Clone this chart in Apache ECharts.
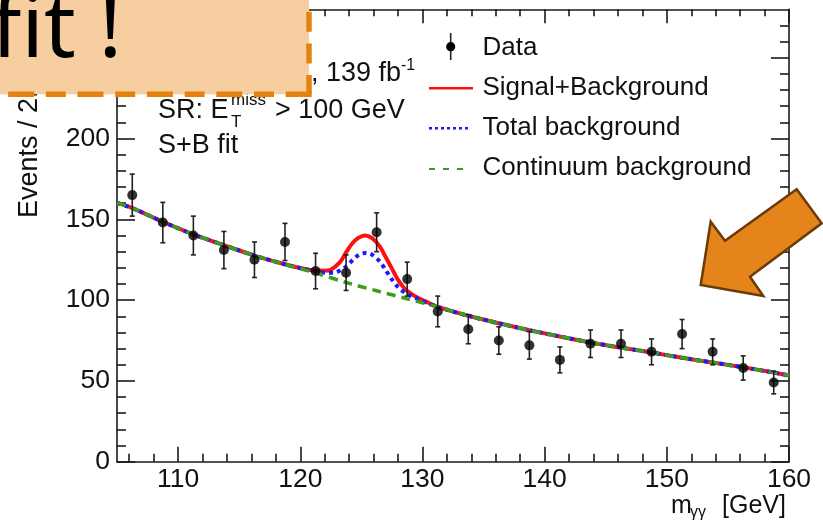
<!DOCTYPE html>
<html>
<head>
<meta charset="utf-8">
<script src="https://cdn.jsdelivr.net/npm/echarts@6/dist/echarts.min.js"></script>
<style>
html,body{margin:0;padding:0;background:#fff;}
#chart{width:823px;height:523px;}
</style>
</head>
<body>
<div id="chart"></div>
<script>
// ---- data ----
const binCenters = [106.25,108.75,111.25,113.75,116.25,118.75,121.25,123.75,126.25,128.75,131.25,133.75,136.25,138.75,141.25,143.75,146.25,148.75,151.25,153.75,156.25,158.75];
const eventCounts = [165,148,140,131,125,136,118,117,142,113,93,82,75,72,63,73,73,68,79,68,58,49];
const countErrors = [13,12.5,12,11.5,11,11.5,11,11,12,10.5,9.5,9,8.5,8.5,8,8.5,8.5,8,9,8,7.5,7];

// Continuum background (green dashed)
const contX = [105,106.25,108.75,111.25,113.75,116.25,118.75,121.25,123.75,126.25,128.75,131.25,133.75,136.25,138.75,141.25,143.75,146.25,148.75,151.25,153.75,156.25,158.75,160];
const contY = [160.2,157,148.5,140.7,134,127.6,122,116.8,110.9,105.8,100.8,95.8,90.3,85.7,81.4,77.5,73.8,70.6,67.6,64.3,61.4,58.4,55.2,53.4];

// Signal + Background (red solid)
const sbX = [105,106.25,108.75,111.25,113.75,116.25,118.75,120,121,121.9,122.5,123.25,123.75,124.25,124.75,125.3,125.85,126.5,127,127.5,128,128.5,129,129.5,130.25,131.25,133.75,136.25,138.75,141.25,143.75,146.25,148.75,151.25,153.75,156.25,158.75,160];
const sbY = [160.2,157,148.5,140.7,134,127.6,122.2,119.9,118.5,118.2,118.8,123.5,129.5,135,138.5,140,138.5,133.3,126.5,119.5,112.5,107.5,104.3,102,99.2,95.8,90.3,85.7,81.4,77.5,73.8,70.6,67.6,64.3,61.4,58.4,55.2,53.4];

// Total background (blue dotted)
const bkgX = [105,106.25,108.75,111.25,113.75,116.25,118.75,120,121,122,122.75,123.25,123.75,124.25,124.75,125.3,125.85,126.5,127,127.5,128,128.5,129,129.75,130.5,131.25,133.75,136.25,138.75,141.25,143.75,146.25,148.75,151.25,153.75,156.25,158.75,160];
const bkgY = [160.2,157,148.5,140.7,134,127.6,122.1,119.8,118.2,117,117,118.3,120.8,124.5,127.8,129.2,128.2,124,118.5,112.8,108,105,102.8,100.3,97.8,95.8,90.3,85.7,81.4,77.5,73.8,70.6,67.6,64.3,61.4,58.4,55.2,53.4];

// Axis ticks and labels
const xMajorTicks = [110,120,130,140,150,160];
const xMinorTicks = [106,108,112,114,116,118,122,124,126,128,132,134,136,138,142,144,146,148,152,154,156,158];
const yMajorTicks = [0,50,100,150,200,250];
const yMajorLabels = [0,50,100,150,200];
const yMinorTicks = [10,20,30,40,60,70,80,90,110,120,130,140,160,170,180,190,210,220,230,240,260,270];

const legendLabels = ['Data','Signal+Background','Total background','Continuum background'];

// ---- chart ----
const FONT = '"Liberation Sans", Arial, sans-serif';
const AX = {color:'#1a1a1a', width:1.6};
const RED = '#ff1010', BLUE = '#1a1aff', GREEN = '#3c9e1e';

function xAx(pos, len, ticks, withLine, withLabels) {
  return {
    type:'value', min:105, max:160, position:pos,
    axisLine:{show:withLine, onZero:false, lineStyle:AX},
    axisTick:{show:true, inside:true, length:len, customValues:ticks, lineStyle:AX},
    axisLabel: withLabels ? {show:true, customValues:xMajorTicks, fontSize:26.5, color:'#111', margin:4, fontFamily:FONT} : {show:false},
    splitLine:{show:false}
  };
}
function yAx(pos, len, ticks, withLine, withLabels) {
  return {
    type:'value', min:0, max:280, position:pos,
    axisLine:{show:withLine, onZero:false, lineStyle:AX},
    axisTick:{show:true, inside:true, length:len, customValues:ticks, lineStyle:AX},
    axisLabel: withLabels ? {show:true, customValues:yMajorLabels, fontSize:26.5, color:'#111', margin:7, fontFamily:FONT} : {show:false},
    splitLine:{show:false}
  };
}

const pairs = (xs, ys) => xs.map((x,i)=>[x, ys[i]]);

const chart = echarts.init(document.getElementById('chart'), null, {renderer:'canvas'});

const option = {
  backgroundColor:'#ffffff',
  animation:false,
  grid:{left:117, right:34, top:9.3, bottom:61.3, containLabel:false},
  xAxis:[
    xAx('bottom',15,xMajorTicks,true,true),
    xAx('bottom',8,xMinorTicks,false,false),
    xAx('top',14,xMajorTicks,true,false),
    xAx('top',7,xMinorTicks,false,false)
  ],
  yAxis:[
    yAx('left',18,yMajorTicks,true,true),
    yAx('left',9,yMinorTicks,false,false),
    yAx('right',18,yMajorTicks,true,false),
    yAx('right',9,yMinorTicks,false,false)
  ],
  series:[
    {name:'Signal+Background', type:'line', data:pairs(sbX,sbY), symbol:'none', smooth:0.3,
     lineStyle:{color:RED, width:4}, z:2},
    {name:'Total background', type:'line', data:pairs(bkgX,bkgY), symbol:'none', smooth:0.3,
     lineStyle:{color:BLUE, width:4, type:[4,4]}, z:3},
    {name:'Continuum background', type:'line', data:pairs(contX,contY), symbol:'none', smooth:0.3,
     lineStyle:{color:GREEN, width:3.5, type:[9,6]}, z:4},
    {name:'Data errors', type:'custom', z:5,
     data: binCenters.map((x,i)=>[x, eventCounts[i]-countErrors[i], eventCounts[i]+countErrors[i]]),
     renderItem:function(params, api){
       const x = api.value(0);
       const p1 = api.coord([x, api.value(1)]);
       const p2 = api.coord([x, api.value(2)]);
       const st = {stroke:'#222', lineWidth:1.6};
       const cw = 2.5;
       return {type:'group', children:[
         {type:'line', shape:{x1:p1[0],y1:p1[1],x2:p2[0],y2:p2[1]}, style:st},
         {type:'line', shape:{x1:p1[0]-cw,y1:p1[1],x2:p1[0]+cw,y2:p1[1]}, style:st},
         {type:'line', shape:{x1:p2[0]-cw,y1:p2[1],x2:p2[0]+cw,y2:p2[1]}, style:st}
       ]};
     }},
    {name:'Data', type:'scatter', data:pairs(binCenters,eventCounts), symbol:'circle', symbolSize:10,
     itemStyle:{color:'#000'}, z:6}
  ],
  graphic:{elements:[
    // annotations
    {type:'text', z:10, x:311, y:73.6, style:{text:', 139 fb', font:'27px '+FONT, fill:'#111', align:'left', verticalAlign:'middle'}},
    {type:'text', z:10, x:401, y:66, style:{text:'-1', font:'16px '+FONT, fill:'#111', align:'left', verticalAlign:'middle'}},
    {type:'text', z:10, x:158, y:110.6, style:{text:'SR: E', font:'27px '+FONT, fill:'#111', align:'left', verticalAlign:'middle'}},
    {type:'text', z:10, x:231, y:100.5, style:{text:'miss', font:'17px '+FONT, fill:'#111', align:'left', verticalAlign:'middle'}},
    {type:'text', z:10, x:231, y:122, style:{text:'T', font:'17px '+FONT, fill:'#111', align:'left', verticalAlign:'middle'}},
    {type:'text', z:10, x:275, y:110.6, style:{text:'> 100 GeV', font:'27px '+FONT, fill:'#111', align:'left', verticalAlign:'middle'}},
    {type:'text', z:10, x:158, y:145.6, style:{text:'S+B fit', font:'27px '+FONT, fill:'#111', align:'left', verticalAlign:'middle'}},
    // axis titles
    {type:'text', z:10, x:29.5, y:218, rotation:Math.PI/2, style:{text:'Events / 2.5 GeV', font:'27px '+FONT, fill:'#111', align:'left', verticalAlign:'middle'}},
    {type:'text', z:10, x:671, y:506.3, style:{text:'m', font:'25px '+FONT, fill:'#111', align:'left', verticalAlign:'middle'}},
    {type:'text', z:10, x:690, y:513, style:{text:'γγ', font:'16px '+FONT, fill:'#111', align:'left', verticalAlign:'middle'}},
    {type:'text', z:10, x:722, y:506.3, style:{text:'[GeV]', font:'25px '+FONT, fill:'#111', align:'left', verticalAlign:'middle'}},
    // legend
    {type:'line', z:10, shape:{x1:450.7,y1:33,x2:450.7,y2:60}, style:{stroke:'#222', lineWidth:1.6}},
    {type:'circle', z:10, shape:{cx:450.7, cy:46.7, r:4.6}, style:{fill:'#000'}},
    {type:'line', z:10, shape:{x1:429,y1:88.3,x2:473,y2:88.3}, style:{stroke:RED, lineWidth:2.5}},
    {type:'line', z:10, shape:{x1:429,y1:128.3,x2:471,y2:128.3}, style:{stroke:BLUE, lineWidth:2.5, lineDash:[3,3]}},
    {type:'line', z:10, shape:{x1:429,y1:169,x2:471,y2:169}, style:{stroke:GREEN, lineWidth:2, lineDash:[6,8]}},
    {type:'text', z:10, x:482.5, y:47.7, style:{text:legendLabels[0], font:'26px '+FONT, fill:'#111', align:'left', verticalAlign:'middle'}},
    {type:'text', z:10, x:482.5, y:87.7, style:{text:legendLabels[1], font:'26px '+FONT, fill:'#111', align:'left', verticalAlign:'middle'}},
    {type:'text', z:10, x:482.5, y:127.7, style:{text:legendLabels[2], font:'26px '+FONT, fill:'#111', align:'left', verticalAlign:'middle'}},
    {type:'text', z:10, x:482.5, y:168.3, style:{text:legendLabels[3], font:'26px '+FONT, fill:'#111', align:'left', verticalAlign:'middle'}},
    // orange callout box
    {type:'rect', z:50, shape:{x:-20, y:-20, width:329, height:114.2}, style:{fill:'#F6CE9F'}},
    {type:'polyline', z:51, shape:{points:[[309,-20],[309,94.2]]}, style:{stroke:'#E5820F', lineWidth:5.5, lineDash:[20,11.7], fill:null}},
    {type:'polyline', z:51, shape:{points:[[311.7,94.2],[-20,94.2]]}, style:{stroke:'#E5820F', lineWidth:5.5, lineDash:[26,11.7,20,11.7], fill:null}},
    {type:'text', z:52, x:-9, y:32, style:{text:'fit !', font:'88px "Noto Sans", sans-serif', fill:'#000', align:'left', verticalAlign:'middle'}},
    // orange arrow
    {type:'polygon', z:50, shape:{points:[[796.7,189.3],[821.7,223.3],[750,276.7],[763.3,296],[700.7,285],[710.7,221.7],[725,240.7]]},
     style:{fill:'#E5841B', stroke:'#6B3A08', lineWidth:2.5, lineJoin:'miter'}}
  ]}
};
chart.setOption(option);
</script>
</body>
</html>
